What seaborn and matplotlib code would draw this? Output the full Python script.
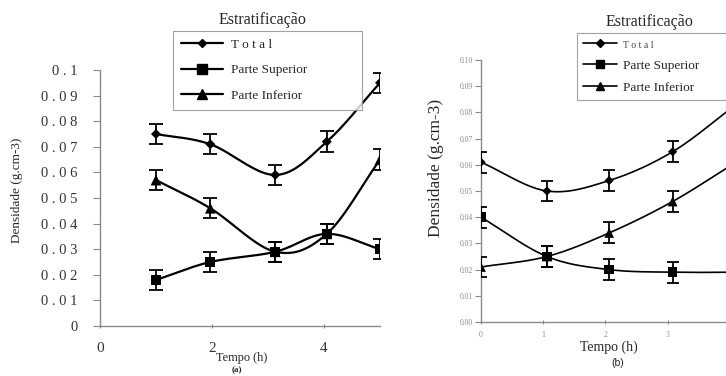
import numpy as np
import pandas as pd
import matplotlib
matplotlib.use("Agg")
import matplotlib.pyplot as plt
from matplotlib.lines import Line2D
import seaborn as sns

# --- dados ---
# painel (a)
tempo_a = [1.0, 1.97, 3.13, 4.05, 5.0]
total_a = [0.075, 0.071, 0.059, 0.072, 0.095]
superior_a = [0.018, 0.025, 0.029, 0.036, 0.030]
inferior_a = [0.057, 0.046, 0.029, 0.036, 0.065]

# painel (b) - o ultimo ponto fica cortado na figura original
tempo_b = [0.0, 1.06, 2.06, 3.08, 4.1]
total_b = [0.061, 0.050, 0.054, 0.065, 0.083]
superior_b = [0.040, 0.025, 0.020, 0.019, 0.019]
inferior_b = [0.021, 0.025, 0.034, 0.046, 0.061]

erro = 0.004  # barra de erro (+/-)

series = ["Total", "Parte Superior", "Parte Inferior"]
legend_labels = ["T o t a l", "Parte Superior", "Parte Inferior"]
markers = {"Total": "D", "Parte Superior": "s", "Parte Inferior": "^"}

yticks_a = [0, 0.01, 0.02, 0.03, 0.04, 0.05, 0.06, 0.07, 0.08, 0.09, 0.1]
yticklabels_a = ["0", "0 . 0 1", "0 . 0 2", "0 . 0 3", "0 . 0 4", "0 . 0 5",
                 "0 . 0 6", "0 . 0 7", "0 . 0 8", "0 . 0 9", "0 . 1"]
xticks_a = [0, 2, 4]
yticks_b = [0, 0.01, 0.02, 0.03, 0.04, 0.05, 0.06, 0.07, 0.08, 0.09, 0.10]
yticklabels_b = ["%.2f" % v for v in yticks_b]
xticks_b = [0, 1, 2, 3]


def suavizar(x, y, sx, sy, n=40):
    # curva Catmull-Rom so para desenhar a linha suave entre os pontos
    p = np.column_stack([np.asarray(x) / sx, np.asarray(y) / sy])
    p = np.vstack([2 * p[0] - p[1], p, 2 * p[-1] - p[-2]])
    t = np.linspace(0, 1, n)[:, None]
    out = []
    for i in range(1, len(p) - 2):
        p0, p1, p2, p3 = p[i - 1], p[i], p[i + 1], p[i + 2]
        c = 0.5 * ((2 * p1) + (-p0 + p2) * t + (2 * p0 - 5 * p1 + 4 * p2 - p3) * t ** 2
                   + (-p0 + 3 * p1 - 3 * p2 + p3) * t ** 3)
        out.append(c)
    c = np.vstack(out)
    return c[:, 0] * sx, c[:, 1] * sy


def painel(ax, tempo, valores, sx, sy, lw, sizes, cap):
    df = pd.DataFrame({
        "tempo": np.tile(tempo, 3),
        "densidade": np.concatenate(valores),
        "serie": np.repeat(series, len(tempo)),
    })
    for s, v in zip(series, valores):
        xs, ys = suavizar(tempo, v, sx, sy)
        ax.plot(xs, ys, color="black", lw=lw, zorder=2)
        ax.errorbar(tempo, v, yerr=erro, fmt="none", ecolor="black",
                    elinewidth=1.3, capsize=cap, capthick=1.3, zorder=3)
    sns.scatterplot(data=df, x="tempo", y="densidade", style="serie",
                    size="serie", sizes=sizes, markers=markers, color="black",
                    edgecolor="black", linewidth=0, legend=False, ax=ax, zorder=4)
    for sp in ["top", "right"]:
        ax.spines[sp].set_visible(False)
    for sp in ["left", "bottom"]:
        ax.spines[sp].set_color("#8a8a8a")
        ax.spines[sp].set_linewidth(1.0)
    ax.set_xlabel("")
    ax.set_ylabel("")


sns.set_style("white")
plt.rcParams["font.family"] = ["Liberation Serif", "DejaVu Serif"]

fig = plt.figure(figsize=(7.26, 3.76), dpi=100)

# ---------- painel (a) ----------
ax1 = fig.add_axes([100 / 726, 1 - 326 / 376, 280 / 726, 256 / 376])
painel(ax1, tempo_a, [total_a, superior_a, inferior_a], 5.0, 0.1,
       lw=1.6, sizes={"Total": 26, "Parte Superior": 55, "Parte Inferior": 60},
       cap=5)
ax1.set_xlim(0, 5)
ax1.set_ylim(0, 0.1)
ax1.set_yticks(yticks_a)
ax1.set_yticklabels(yticklabels_a, fontsize=10.5, color="#333333")
ax1.set_xticks(xticks_a)
ax1.set_xticklabels([str(v) for v in xticks_a], fontsize=11, color="#333333")
ax1.tick_params(axis="y", direction="out", length=5, width=0.8, color="#8a8a8a",
                pad=11, left=True)
ax1.tick_params(axis="x", direction="inout", length=3, width=0.8, color="#8a8a8a",
                pad=10, bottom=True)
fig.text(17 / 726, 1 - 190 / 376, "Densidade (g.cm-3)", rotation=90,
         ha="center", va="center", fontsize=9.5)
fig.text(242 / 726, 1 - 358 / 376, "Tempo (h)", ha="center", va="center",
         fontsize=8.8)
fig.text(237 / 726, 1 - 370 / 376, "(a)", ha="center", va="center",
         fontsize=6.5, fontweight="bold")

handles = [Line2D([], [], color="black", lw=1.6, marker=markers[s],
                  markersize=7 if s != "Total" else 4.5) for s in series]
leg1 = fig.legend(handles, legend_labels, loc="upper left",
                  bbox_to_anchor=(173 / 726, 1 - 31 / 376, 189 / 726, 0.001),
                  mode="expand", borderaxespad=0,
                  bbox_transform=fig.transFigure, fontsize=9.5,
                  handlelength=3.2, labelspacing=1.0, borderpad=0.6,
                  handletextpad=0.6, frameon=True, fancybox=False)
leg1.get_frame().set_edgecolor("#8a8a8a")
leg1.get_frame().set_linewidth(0.8)
fig.text(263 / 726, 1 - 20 / 376, "Estratificação", ha="center", va="center",
         fontsize=11.5)

# ---------- painel (b) ----------
ax2 = fig.add_axes([481 / 726, 1 - 322 / 376, 280 / 726, 262 / 376])
painel(ax2, tempo_b, [total_b, superior_b, inferior_b], 4.5, 0.1,
       lw=1.2, sizes={"Total": 22, "Parte Superior": 48, "Parte Inferior": 50},
       cap=4)
ax2.set_xlim(0, 4.5)
ax2.set_ylim(0, 0.1)
ax2.set_yticks(yticks_b)
ax2.set_yticklabels(yticklabels_b, fontsize=5.5, color="#8a8a8a")
ax2.set_xticks(xticks_b)
ax2.set_xticklabels([str(v) for v in xticks_b], fontsize=5.5, color="#8a8a8a")
ax2.tick_params(axis="y", direction="out", length=4, width=0.8, color="#8a8a8a",
                pad=2, left=True)
ax2.tick_params(axis="x", direction="inout", length=3, width=0.8, color="#8a8a8a",
                pad=5, bottom=True)
fig.text(436 / 726, 1 - 168 / 376, "Densidade (g.cm-3)", rotation=90,
         ha="center", va="center", fontsize=12.5)
fig.text(609 / 726, 1 - 347 / 376, "Tempo (h)", ha="center", va="center",
         fontsize=10)
fig.text(618 / 726, 1 - 363 / 376, "(b)", ha="center", va="center",
         fontsize=7.5, family=["Liberation Sans", "DejaVu Sans"])

handles_b = [Line2D([], [], color="black", lw=1.2, marker=markers[s],
                    markersize=6 if s != "Total" else 4) for s in series]
leg2 = fig.legend(handles_b, legend_labels, loc="upper left",
                  bbox_to_anchor=(577 / 726, 1 - 33 / 376, 180 / 726, 0.001),
                  mode="expand", borderaxespad=0,
                  bbox_transform=fig.transFigure, fontsize=9.5,
                  handlelength=2.6, labelspacing=0.75, borderpad=0.45,
                  handletextpad=0.4, frameon=True, fancybox=False)
leg2.get_frame().set_edgecolor("#8a8a8a")
leg2.get_frame().set_linewidth(0.8)
for txt in leg2.get_texts()[:1]:
    txt.set_fontsize(7)
    txt.set_color("#444444")
fig.text(650 / 726, 1 - 22 / 376, "Estratificação", ha="center", va="center",
         fontsize=11.5)

fig.savefig("out.png", dpi=100)
